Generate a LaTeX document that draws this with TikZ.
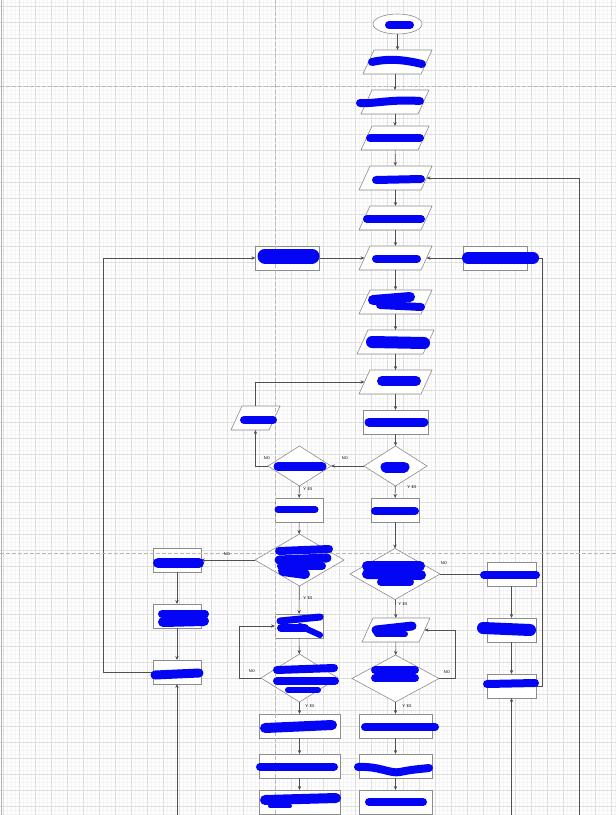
\documentclass[tikz,border=0pt]{standalone}
\usetikzlibrary{shapes.geometric,arrows.meta}
\definecolor{shapegray}{RGB}{140,140,140}
\definecolor{conngray}{RGB}{80,80,80}
\definecolor{majorg}{RGB}{222,222,222}
\definecolor{minorg}{RGB}{244,244,244}
\definecolor{pagebrk}{RGB}{185,185,185}
\definecolor{scribblue}{RGB}{5,5,245}
\tikzset{
  shp/.style={draw=shapegray, fill=white, line width=0.6pt, inner sep=0pt, outer sep=0pt},
  boxn/.style={shp, rectangle, minimum width=#1, minimum height=24},
  parab/.style={rectangle, draw=none, inner sep=0pt, outer sep=0pt, minimum width=#1, minimum height=24},
  dia/.style n args={2}{shp, diamond, minimum width=#1, minimum height=#2},
  conn/.style={draw=conngray, line width=0.6pt, -{Stealth[length=4pt,width=3.4pt]}},
  lbl/.style={font=\fontsize{4}{4}\selectfont\sffamily, text=black, inner sep=0pt},
  scrib/.style={draw=scribblue, line width=#1, line cap=round, line join=round},
  scrib/.default=8,
  minorline/.style={draw=minorg, line width=0.4pt},
  majorline/.style={draw=majorg, line width=0.6pt},
  brk/.style={draw=pagebrk, line width=0.6pt, dash pattern=on 4pt off 2pt}
}
\newcommand\mypara[4]{%
  \node[parab=#4] (#1) at (#2,#3) {};
  \draw[shp] (#1.south west) -- ++(#4-11,0) -- (#1.north east) -- ++(-#4+11,0) -- cycle;
}
\begin{document}
\begin{tikzpicture}[x=1pt,y=-1pt]
\useasboundingbox (0,0) rectangle (616,815);
\fill[white] (0,0) rectangle (616,815);
% grid
\foreach \i in {0,...,155} \draw[minorline] ({-0.7+4*\i},0) -- ++(0,815);
\foreach \i in {0,...,204} \draw[minorline] (0,{2.3+4*\i}) -- ++(616,0);
\foreach \i in {0,...,38} \draw[majorline] ({3.3+16*\i},0) -- ++(0,815);
\foreach \i in {0,...,50} \draw[majorline] (0,{6.3+16*\i}) -- ++(616,0);
\draw[draw=majorg!80!black, line width=0.8pt] (1,0) -- (1,815);

% shapes
\node[shp, ellipse, minimum width=49, minimum height=20] (start) at (397.5,24) {};
\mypara{p1}{397.5}{62}{69}
\mypara{p2}{395}{102}{68}
\mypara{p3}{395}{138}{68}
\mypara{p4}{395.5}{178}{73}
\mypara{p5}{395.5}{218}{73}
\mypara{p6}{395.5}{258}{73}
\node[boxn=64] (lb) at (287.5,258) {};
\node[boxn=64] (rb) at (495,258) {};
\mypara{p7}{395.5}{302}{73}
\mypara{p8}{395.5}{342}{77}
\mypara{p9}{395.5}{382}{73}
\mypara{sp}{255.5}{418}{49}
\node[boxn=65] (r1) at (395.5,422) {};
\node[dia={63}{40}] (d1) at (395.5,466) {};
\node[dia={63}{40}] (d0) at (299.5,466) {};
\node[boxn=48] (rl1) at (299,510) {};
\node[boxn=48] (rr1) at (395,510) {};
\node[dia={89}{52}] (d2) at (299.5,560) {};
\node[dia={90}{51}] (d3) at (395,574) {};
\node[boxn=48] (lb1) at (177,560) {};
\node[boxn=48] (lb2) at (177,616) {};
\node[boxn=48] (lb3) at (177,672) {};
\node[boxn=49] (rb1) at (511.5,574) {};
\node[boxn=49] (rb2) at (511.5,630) {};
\node[boxn=49] (rb3) at (511.5,686) {};
\node[boxn=48] (rl2) at (299,626) {};
\mypara{pr2}{396}{630}{68}
\node[dia={77}{48}] (d4) at (299.5,678) {};
\node[dia={87}{47}] (d5) at (395.5,678.5) {};
\node[boxn=81] (bl1) at (299.5,726) {};
\node[boxn=81] (bl2) at (299.5,766) {};
\node[boxn=81] (bl3) at (299.5,802) {};
\node[boxn=73] (br1) at (395.5,726) {};
\node[boxn=73] (br2) at (395.5,766) {};
\node[boxn=73] (br3) at (395.5,802) {};

% free ends
\coordinate (botR) at (579,815);
\coordinate (botL) at (177,815);
\coordinate (botM) at (511.5,815);

% connectors
\draw[conn] (start) -- (p1);
\draw[conn] (p1.south -| p2) -- (p2);
\draw[conn] (p2) -- (p3);
\draw[conn] (p3) -- (p4);
\draw[conn] (p4) -- (p5);
\draw[conn] (p5) -- (p6);
\draw[conn] (p6) -- (p7);
\draw[conn] (p7) -- (p8);
\draw[conn] (p8) -- (p9);
\draw[conn] (p9) -- (r1);
\draw[conn] (r1) -- (d1);
\draw[conn] (botR) -- (579,178) -- ([xshift=-5.5pt]p4.east);
\draw[conn] (lb) -- ([xshift=5.5pt]p6.west);
\draw[conn] (rb) -- ([xshift=-5.5pt]p6.east);
\draw[conn] (lb3.west) -- (103,672) -- (103,258) -- (lb.west);
\draw[conn] (rb3.east) -- (542,686) -- (542,258) -- (rb.east);
\draw[conn] (d1.west) -- (d0.east);
\draw[conn] (d0.west) -- (255.5,466) -- (sp.south);
\draw[conn] (sp.north) -- (255.5,382) -- ([xshift=5.5pt]p9.west);
\draw[conn] (d0) -- (rl1);
\draw[conn] (d1) -- (rr1);
\draw[conn] (rl1) -- (d2);
\draw[conn] (rr1) -- (d3);
\draw[conn] (d2.west) -- (lb1.east);
\draw[conn] (d2) -- (rl2);
\draw[conn] (d3.east) -- (rb1.west);
\draw[conn] (d3) -- (pr2);
\draw[conn] (lb1) -- (lb2);
\draw[conn] (lb2) -- (lb3);
\draw[conn] (botL) -- (lb3.south);
\draw[conn] (rb1) -- (rb2);
\draw[conn] (rb2) -- (rb3);
\draw[conn] (botM) -- (rb3.south);
\draw[conn] (rl2) -- (d4);
\draw[conn] (d4.west) -- (239,678) -- (239,626) -- (rl2.west);
\draw[conn] (d4) -- (bl1);
\draw[conn] (pr2) -- (d5);
\draw[conn] (d5.east) -- (455,678.5) -- (455,630) -- ([xshift=-5.5pt]pr2.east);
\draw[conn] (d5) -- (br1);
\draw[conn] (bl1) -- (bl2);
\draw[conn] (bl2) -- (bl3);
\draw[conn] (br1) -- (br2);
\draw[conn] (br2) -- (br3);

% page breaks
\draw[brk] (0,86.3) -- (616,86.3);
\draw[brk] (0,553) -- (616,553);
\draw[brk] (275.3,0) -- (275.3,815);

% labels
\node[lbl] (n1) at (345,458) {NO};
\node[lbl] (n2) at (267,458) {NO};
\node[lbl] (y1) at (308,489) {Y ES};
\node[lbl] (y2) at (412,487) {Y ES};
\node[lbl] (n3) at (227,554) {NO};
\node[lbl] (y3) at (308,598) {Y ES};
\node[lbl] (n4) at (444,563) {NO};
\node[lbl] (y4) at (403,604) {Y ES};
\node[lbl] (n5) at (252,671) {NO};
\node[lbl] (y5) at (310,706) {Y ES};
\node[lbl] (n6) at (447,672) {NO};
\node[lbl] (y6) at (407,706) {Y ES};

% redaction scribbles
\draw[scrib] (389,25) -- (410,25);
\draw[scrib] (372,62) .. controls (390,58) and (405,60) .. (422,64);
\draw[scrib] (360,103) .. controls (375,104) and (390,99) .. (420,101);
\draw[scrib] (370,138) -- (420,138);
\draw[scrib] (376,180) -- (421,179);
\draw[scrib] (367,219) -- (421,219);
\draw[scrib=15] (265,256) -- (312,256);
\draw[scrib] (376,258.5) -- (417,258.5);
\draw[scrib=12] (468,258) -- (533,258);
\draw[scrib=10] (373,300) -- (410,297);
\draw[scrib] (380,305) -- (421,307);
\draw[scrib=12] (372,342) -- (424,343);
\draw[scrib=10] (382,381) -- (416,381);
\draw[scrib] (244,420) -- (273,420);
\draw[scrib=9] (369,422) -- (424,422);
\draw[scrib=11] (386,467) -- (404,467);
\draw[scrib=9] (278,466.5) -- (322,466.5);
\draw[scrib=7] (278,509.5) -- (315,509.5);
\draw[scrib] (375,511) -- (415,511);
\draw[scrib] (279,551) -- (329,549);
\draw[scrib=9] (279,560) -- (327,558);
\draw[scrib=8] (281,566) -- (322,566);
\draw[scrib=10] (283,571) -- (305,574);
\draw[scrib=10] (367,566) -- (420,566);
\draw[scrib=10] (367,574) -- (421,575);
\draw[scrib] (381,582) -- (410,582);
\draw[scrib] (484,575) -- (536,575);
\draw[scrib=10] (158,563) -- (199,563);
\draw[scrib=9] (376,630) -- (412,626);
\draw[scrib=6] (377,634) -- (405,634);
\draw[scrib=7] (280,621) -- (320,617);
\draw[scrib=8] (281,628) -- (305,628);
\draw[scrib=6] (300,626) -- (320,635);
\draw[scrib=12] (483,628) -- (530,630);
\draw[scrib] (162,614) -- (205,614);
\draw[scrib=10] (163,622) -- (204,621);
\draw[scrib] (375,670) -- (415,670);
\draw[scrib] (375,678) -- (415,678);
\draw[scrib] (487,684) -- (535,683);
\draw[scrib=9] (155,675) -- (199,673);
\draw[scrib] (277,670) -- (334,668);
\draw[scrib] (277,681) -- (335,681);
\draw[scrib=6] (288,690) -- (318,690);
\draw[scrib=10] (265,728) -- (332,725);
\draw[scrib] (365,727) -- (435,727);
\draw[scrib] (260,767) -- (334,767);
\draw[scrib] (358,767) .. controls (380,766) and (390,774) .. (400,772) .. controls (410,770) .. (429,768);
\draw[scrib=10] (265,800) -- (336,798);
\draw[scrib=4] (270,806) -- (290,806);
\draw[scrib] (369,802) -- (423,802);
\end{tikzpicture}
\end{document}
